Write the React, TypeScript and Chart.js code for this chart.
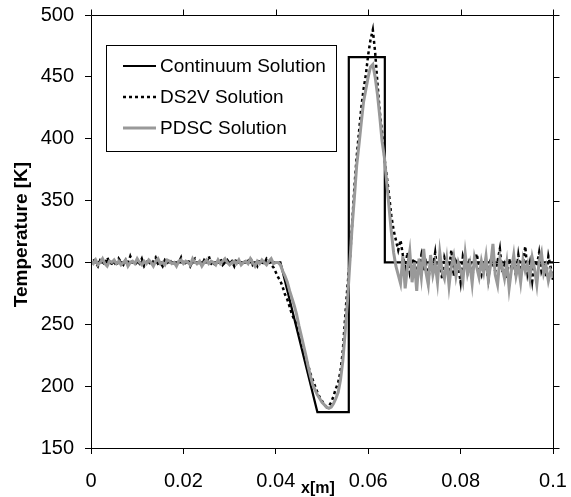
import { useEffect, useRef } from "react";
import { Chart, registerables } from "chart.js";

Chart.register(...registerables);

// x positions [m] shared by the DS2V and PDSC series
const xGrid = [
  0, 0.0005, 0.001, 0.0015, 0.002, 0.0025, 0.003, 0.0035, 0.004, 0.0045,
  0.005, 0.0055, 0.006, 0.0065, 0.007, 0.0075, 0.008, 0.0085, 0.009, 0.0095,
  0.01, 0.0105, 0.011, 0.0115, 0.012, 0.0125, 0.013, 0.0135, 0.014, 0.0145,
  0.015, 0.0155, 0.016, 0.0165, 0.017, 0.0175, 0.018, 0.0185, 0.019, 0.0195,
  0.02, 0.0205, 0.021, 0.0215, 0.022, 0.0225, 0.023, 0.0235, 0.024, 0.0245,
  0.025, 0.0255, 0.026, 0.0265, 0.027, 0.0275, 0.028, 0.0285, 0.029, 0.0295,
  0.03, 0.0305, 0.031, 0.0315, 0.032, 0.0325, 0.033, 0.0335, 0.034, 0.0345,
  0.035, 0.0355, 0.036, 0.0365, 0.037, 0.0375, 0.038, 0.0385, 0.039, 0.0395,
  0.04, 0.0405, 0.041, 0.0415, 0.042, 0.0425, 0.043, 0.0435, 0.044, 0.0445,
  0.045, 0.0455, 0.046, 0.0465, 0.047, 0.0475, 0.048, 0.0485, 0.049, 0.0495,
  0.05, 0.0505, 0.051, 0.0515, 0.052, 0.0525, 0.053, 0.0535, 0.054, 0.0545,
  0.055, 0.0555, 0.056, 0.0565, 0.057, 0.0575, 0.058, 0.0585, 0.059, 0.0595,
  0.06, 0.0605, 0.061, 0.0615, 0.062, 0.0625, 0.063, 0.0635, 0.064, 0.0645,
  0.065, 0.0655, 0.066, 0.0665, 0.067, 0.0675, 0.068, 0.0685, 0.069, 0.0695,
  0.07, 0.0705, 0.071, 0.0715, 0.072, 0.0725, 0.073, 0.0735, 0.074, 0.0745,
  0.075, 0.0755, 0.076, 0.0765, 0.077, 0.0775, 0.078, 0.0785, 0.079, 0.0795,
  0.08, 0.0805, 0.081, 0.0815, 0.082, 0.0825, 0.083, 0.0835, 0.084, 0.0845,
  0.085, 0.0855, 0.086, 0.0865, 0.087, 0.0875, 0.088, 0.0885, 0.089, 0.0895,
  0.09, 0.0905, 0.091, 0.0915, 0.092, 0.0925, 0.093, 0.0935, 0.094, 0.0945,
  0.095, 0.0955, 0.096, 0.0965, 0.097, 0.0975, 0.098, 0.0985, 0.099, 0.0995,
  0.1,
];

// PDSC Solution temperatures [K]
const pdscT = [
  301, 299, 302, 298, 300, 303, 299, 297, 301, 300, 302, 299, 301, 298, 300, 302, 297, 300, 301, 299,
  303, 300, 298, 301, 299, 302, 300, 297, 301, 303, 299, 300, 298, 302, 301, 299, 300, 297, 301, 302,
  299, 301, 300, 298, 303, 300, 299, 301, 297, 300, 302, 299, 301, 300, 298, 302, 299, 301, 303, 300,
  298, 300, 301, 299, 302, 298, 300, 301, 299, 303, 300, 297, 301, 299, 302, 300, 298, 301, 303, 299,
  300,
  300, 298, 293, 289, 284, 277, 271, 265, 258, 249,
  241, 233, 225, 216, 208, 201, 197, 193, 190, 187,
  185, 183, 182, 183, 186, 190, 195, 205, 220, 243,
  268, 298, 328, 352, 378, 395, 413, 430, 440, 450,
  458, 460, 450, 436, 418, 398, 385, 365, 345, 325,
  308, 297,
  290, 283, 305, 279, 296, 309, 284, 300, 277, 303, 288, 311, 292, 282, 306, 290, 299, 284, 308, 293,
  287, 302, 281, 297, 305, 289, 300, 294, 285, 307, 291, 299, 283, 304, 296, 288, 301, 292, 305, 286,
  298, 315, 290, 282, 303, 296, 287, 300, 279, 294, 306, 289, 298, 284, 302, 293, 299, 287, 304, 295,
  282, 301, 308, 291, 297, 285, 293, 288,
];

// DS2V Solution temperatures [K]
const ds2vT = [
  299, 303, 300, 297, 302, 301, 298, 304, 300, 299, 301, 297, 303, 300, 298, 302, 299, 305, 300, 298,
  301, 299, 303, 297, 300, 302, 298, 301, 304, 299, 300, 297, 302, 300, 303, 298, 301, 299, 300, 304,
  298, 300, 302, 297, 301, 303, 299, 300, 298, 302, 300, 305, 299, 297, 301, 300, 303, 298, 300, 302,
  299, 301, 297, 303, 300, 298, 302, 299, 301, 304, 298, 300, 297, 302, 300, 299, 303, 301, 298, 296,
  292,
  288, 285, 280, 274, 270, 264, 258, 254, 250, 244,
  236, 229, 222, 217, 210, 205, 200, 195, 191, 188,
  185, 183, 184, 187, 192, 198, 203, 212, 228, 255,
  280, 300, 330, 360, 385, 405, 425, 440, 452, 468,
  480, 488, 470, 445, 422, 405, 385, 370, 355, 338,
  326, 318, 310, 318, 306, 296, 308, 292, 300,
  303, 289, 297, 306, 293, 299, 285, 302, 296, 308, 291, 300, 287, 304, 298, 294, 310, 289, 301, 297,
  284, 305, 299, 292, 303, 288, 300, 307, 295, 290, 302, 297, 286, 304, 299, 293, 301, 311, 292, 298,
  287, 303, 296, 300, 289, 306, 294, 299, 313, 291, 300, 285, 302, 297, 308, 293, 299, 288, 305, 296,
  286,
];

// Continuum Solution corner points
const contX = [0, 0.041, 0.049, 0.0558, 0.0558, 0.0636, 0.0636, 0.1];
const contT = [300, 300, 179, 179, 466, 466, 300, 300];

const seriesNames = ["Continuum Solution", "DS2V Solution", "PDSC Solution"];
const xTicks = [0, 0.02, 0.04, 0.06, 0.08, 0.1];
const yTicks = [150, 200, 250, 300, 350, 400, 450, 500];
const xTitle = "x[m]";
const yTitle = "Temperature [K]";

const FONT = "'Liberation Sans', Arial, Helvetica, sans-serif";

const framePlugin = {
  id: "frameAndLegend",
  afterDraw(chart: any) {
    const ctx = chart.ctx as CanvasRenderingContext2D;
    const { left, right, top, bottom } = chart.chartArea;
    const L = Math.round(left) + 0.5;
    const R = Math.round(right) + 0.5;
    const T = Math.round(top) + 0.5;
    const B = Math.round(bottom) + 0.5;
    ctx.save();
    ctx.strokeStyle = "#000";
    ctx.lineWidth = 1;
    ctx.beginPath();
    ctx.rect(L, T, R - L, B - T);
    ctx.stroke();
    // mirror ticks on top and right
    const xs = chart.scales.x;
    const ys = chart.scales.y;
    ctx.beginPath();
    xTicks.forEach((v) => {
      const px = Math.round(xs.getPixelForValue(v)) + 0.5;
      ctx.moveTo(px, T);
      ctx.lineTo(px, T - 6);
    });
    yTicks.forEach((v) => {
      const py = Math.round(ys.getPixelForValue(v)) + 0.5;
      ctx.moveTo(R, py);
      ctx.lineTo(R + 6, py);
    });
    ctx.stroke();

    // axis titles
    ctx.fillStyle = "#000";
    ctx.font = `bold 19px ${FONT}`;
    ctx.textAlign = "center";
    ctx.textBaseline = "middle";
    ctx.save();
    ctx.translate(22, (top + bottom) / 2 + 3);
    ctx.rotate(-Math.PI / 2);
    ctx.fillText(yTitle, 0, 0);
    ctx.restore();
    ctx.font = `bold 16px ${FONT}`;
    ctx.fillText(xTitle, 318, 489);

    // legend box
    const bx = 106.5, by = 45.5, bw = 230, bh = 106;
    ctx.fillStyle = "#fff";
    ctx.fillRect(bx, by, bw, bh);
    ctx.strokeStyle = "#000";
    ctx.lineWidth = 1;
    ctx.strokeRect(bx, by, bw, bh);
    const rows = [66, 97, 128];
    chart.data.datasets.forEach((ds: any, i: number) => {
      const yy = rows[i];
      ctx.save();
      ctx.strokeStyle = ds.borderColor;
      ctx.lineWidth = ds.borderWidth;
      ctx.setLineDash(ds.borderDash || []);
      ctx.beginPath();
      ctx.moveTo(123, yy);
      ctx.lineTo(156, yy);
      ctx.stroke();
      ctx.restore();
      ctx.fillStyle = "#000";
      ctx.font = `19px ${FONT}`;
      ctx.textAlign = "left";
      ctx.textBaseline = "middle";
      ctx.fillText(ds.label, 160, yy + 1);
    });
    ctx.restore();
  },
};

export default function App() {
  const ref = useRef<HTMLCanvasElement | null>(null);
  useEffect(() => {
    if (!ref.current) return;
    const toPts = (xa: number[], ya: number[]) => xa.map((x, i) => ({ x, y: ya[i] }));
    const chart = new Chart(ref.current, {
      type: "line",
      data: {
        datasets: [
          {
            label: seriesNames[0],
            data: toPts(contX, contT),
            borderColor: "#000000",
            borderWidth: 2.2,
            pointRadius: 0,
            tension: 0,
            order: 2,
          },
          {
            label: seriesNames[1],
            data: toPts(xGrid, ds2vT),
            borderColor: "#000000",
            borderWidth: 2.5,
            borderDash: [3, 3],
            pointRadius: 0,
            tension: 0,
            order: 1,
          },
          {
            label: seriesNames[2],
            data: toPts(xGrid, pdscT),
            borderColor: "#999999",
            borderWidth: 3,
            pointRadius: 0,
            tension: 0,
            order: 0,
          },
        ] as any,
      },
      options: {
        responsive: false,
        devicePixelRatio: 1,
        animation: false,
        layout: { padding: { left: 0, right: 18, top: 15, bottom: 0 } },
        plugins: {
          legend: { display: false },
          tooltip: { enabled: false },
          title: { display: false },
        },
        scales: {
          x: {
            type: "linear",
            min: 0,
            max: 0.1,
            afterBuildTicks: (s: any) => {
              s.ticks = xTicks.map((v) => ({ value: v }));
            },
            ticks: {
              color: "#000",
              font: { family: FONT, size: 20 },
              padding: 15,
              maxRotation: 0,
              autoSkip: false,
              callback: (v: any) => String(parseFloat(Number(v).toFixed(4))),
            },
            grid: {
              drawOnChartArea: false,
              drawTicks: true,
              tickLength: 6,
              color: "#000",
            },
            border: { display: false },
            afterFit: (s: any) => {
              s.height = 49;
              s.paddingLeft = 0;
              s.paddingRight = 0;
            },
          },
          y: {
            type: "linear",
            min: 150,
            max: 500,
            afterBuildTicks: (s: any) => {
              s.ticks = yTicks.map((v) => ({ value: v }));
            },
            ticks: {
              color: "#000",
              font: { family: FONT, size: 20 },
              padding: 11,
              autoSkip: false,
            },
            grid: {
              drawOnChartArea: false,
              drawTicks: true,
              tickLength: 6,
              color: "#000",
            },
            border: { display: false },
            afterFit: (s: any) => {
              s.width = 91;
              s.paddingTop = 0;
              s.paddingBottom = 0;
            },
          },
        },
      } as any,
      plugins: [framePlugin],
    });
    return () => chart.destroy();
  }, []);
  return (
    <div style={{ position: "fixed", left: 0, top: 0, width: 571, height: 497, background: "#fff" }}>
      <canvas ref={ref} width={571} height={497} />
    </div>
  );
}
